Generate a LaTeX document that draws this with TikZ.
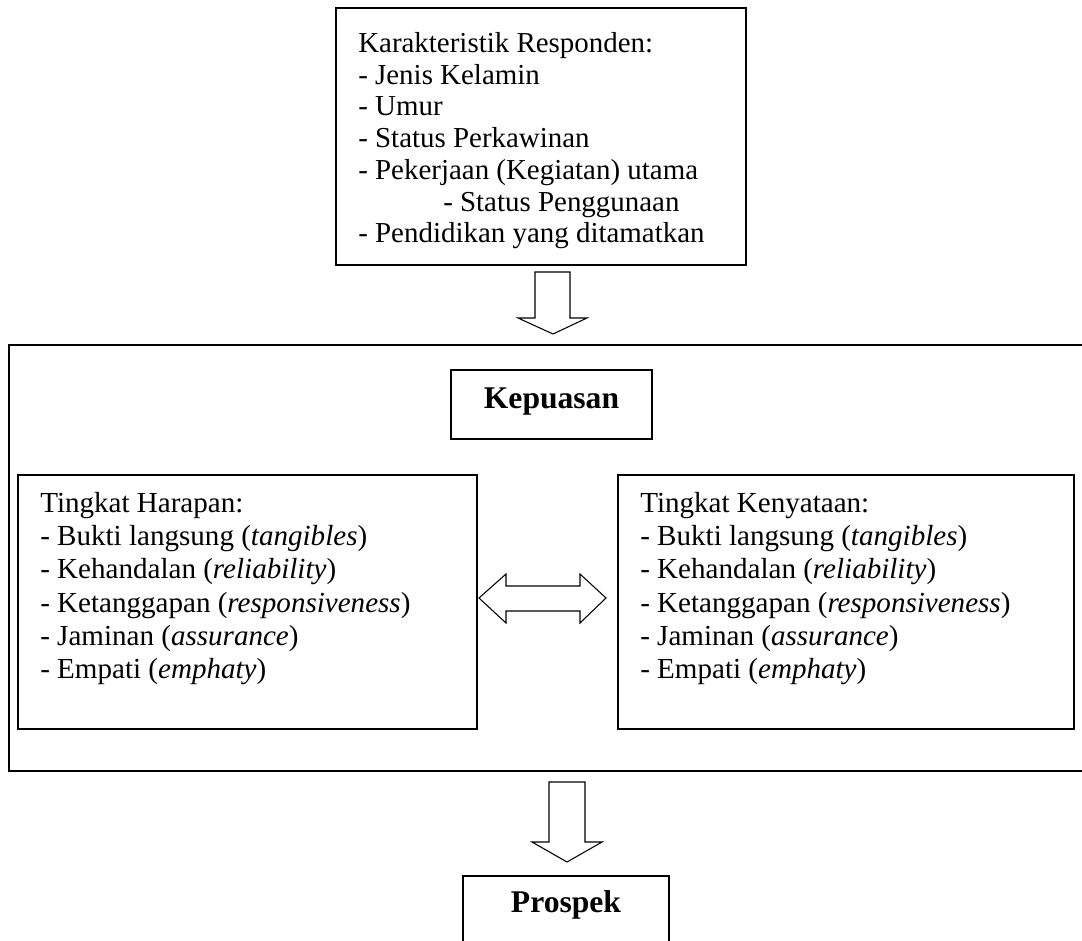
\documentclass[tikz,border=0pt]{standalone}
\usepackage{fontspec}
\setmainfont{Liberation Serif}
\usetikzlibrary{fit}
\tikzset{
  box/.style={draw, line width=1.2pt, inner sep=0pt},
  bigframe/.style={line width=1.4pt},
  blockarrow/.style={draw, line width=0.8pt, fill=white, line join=miter},
  listtext/.style={inner sep=0pt, anchor=north west, align=left,
    font=\fontsize{21.8pt}{24.9pt}\selectfont},
  toptext/.style={inner sep=0pt, anchor=north west, align=left,
    font=\fontsize{21.7pt}{23.8pt}\selectfont},
  titletext/.style={inner sep=0pt, font=\fontsize{23.7pt}{26pt}\selectfont\bfseries}
}
\begin{document}
\begin{tikzpicture}[x=0.75pt,y=-0.75pt]
\clip (0,0) rectangle (1082,941);
\fill[white] (0,0) rectangle (1082,941);

% top box
\node[box, fit={(336,8) (746,265)}] (topbox) {};
\node[toptext] (toptxt) at (358,32) {Karakteristik Responden:\\
- Jenis Kelamin\\
- Umur\\
- Status Perkawinan\\
- Pekerjaan (Kegiatan) utama\\
\hspace*{63.75pt}- Status Penggunaan\\
- Pendidikan yang ditamatkan};

% big frame (right side cut off)
\coordinate (bfTR) at (1100,345);
\coordinate (bfTL) at (9,345);
\coordinate (bfBL) at (9,771);
\coordinate (bfBR) at (1100,771);
\draw[bigframe] (bfTR) -- (bfTL) -- (bfBL) -- (bfBR);

% Kepuasan
\node[box, fit={(451,370) (652,439)}] (kepbox) {};
\node[titletext] (keptxt) at (551.5,402) {Kepuasan};

% left box
\node[box, fit={(18,475) (477,729)}] (leftbox) {};
\node[listtext] (lefttxt) at (40,492) {Tingkat Harapan:\\
- Bukti langsung (\textit{tangibles})\\
- Kehandalan (\textit{reliability})\\
- Ketanggapan (\textit{responsiveness})\\
- Jaminan (\textit{assurance})\\
- Empati (\textit{emphaty})};

% right box
\node[box, fit={(618,475) (1074,729)}] (rightbox) {};
\node[listtext] (righttxt) at (640,492) {Tingkat Kenyataan:\\
- Bukti langsung (\textit{tangibles})\\
- Kehandalan (\textit{reliability})\\
- Ketanggapan (\textit{responsiveness})\\
- Jaminan (\textit{assurance})\\
- Empati (\textit{emphaty})};

% Prospek box (bottom cut off)
\coordinate (prBL) at (463,960);
\coordinate (prTL) at (463,876);
\coordinate (prTR) at (669,876);
\coordinate (prBR) at (669,960);
\draw[line width=1.2pt] (prBL) -- (prTL) -- (prTR) -- (prBR);
\node[titletext] (prtxt) at (566,905) {Prospek};

% block arrow top -> frame
\draw[blockarrow] (535,272) -- (570,272) -- (570,318) -- (587,318) -- (553,334)
  -- (518,318) -- (535,318) -- cycle;

% double arrow between boxes
\draw[blockarrow] (479,598) -- (506,574) -- (506,586) -- (580,586) -- (580,574)
  -- (606,598) -- (580,623) -- (580,611) -- (506,611) -- (506,623) -- cycle;

% block arrow frame -> Prospek
\draw[blockarrow] (549,782) -- (585,782) -- (585,842) -- (602,842) -- (567,862)
  -- (532,842) -- (549,842) -- cycle;
\end{tikzpicture}
\end{document}
